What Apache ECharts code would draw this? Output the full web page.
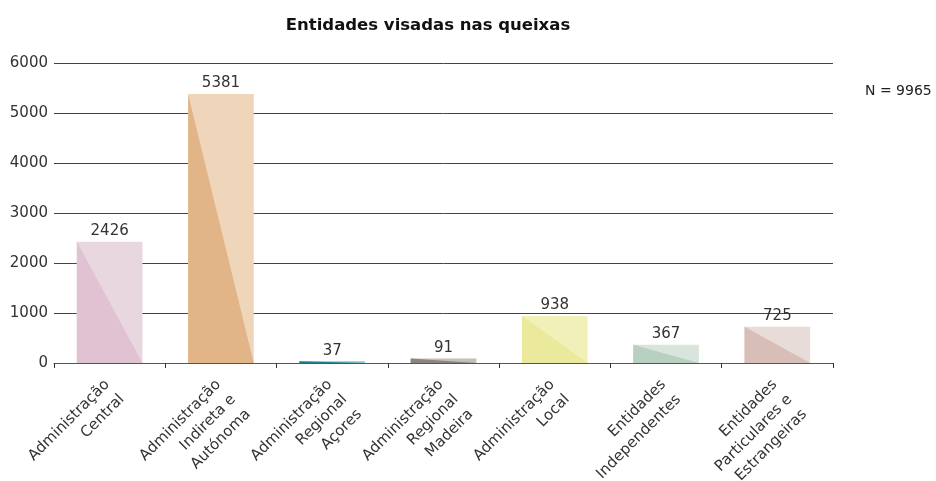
<!DOCTYPE html>
<html>
<head>
<meta charset="utf-8">
<script src="https://cdn.jsdelivr.net/npm/echarts@6/dist/echarts.min.js"></script>
<style>html,body{margin:0;padding:0;background:#fff}#c{width:936px;height:481px}</style>
</head>
<body>
<div id="c"></div>
<script>
var categories = [
  "Administração\nCentral",
  "Administração\nIndireta e\nAutónoma",
  "Administração\nRegional\nAçores",
  "Administração\nRegional\nMadeira",
  "Administração\nLocal",
  "Entidades\nIndependentes",
  "Entidades\nParticulares e\nEstrangeiras"
];
var values = [2426, 5381, 37, 91, 938, 367, 725];
var yTicks = [0, 1000, 2000, 3000, 4000, 5000, 6000];
var totalLabel = "N = 9965";
var titleText = "Entidades visadas nas queixas";

var lightColors = ["#e9d7e0", "#efd6ba", "#96c6cd", "#c4c0b9", "#f2f0b9", "#d9e4dc", "#e8dcd8"];
var darkColors  = ["#e0c2d3", "#e2b588", "#1f818d", "#8b867d", "#ebe99b", "#b7d0c0", "#d7beb7"];

var FONT = "DejaVu Sans";
var BAR_RATIO = 0.59;

var chart = echarts.init(document.getElementById('c'), null, {renderer: 'canvas'});
var option = {
  animation: false,
  graphic: [
    {
      type: 'text', x: 428, y: 26,
      style: {text: titleText, font: 'bold 16.5px "' + FONT + '"', fill: '#111', align: 'center', verticalAlign: 'middle'}
    },
    {
      type: 'text', x: 865, y: 91,
      style: {text: totalLabel, font: '14px "' + FONT + '"', fill: '#222', align: 'left', verticalAlign: 'middle'}
    }
  ],
  grid: {left: 54, right: 103, top: 63, bottom: 118, containLabel: false, outerBoundsMode: 'none'},
  xAxis: {
    type: 'category',
    data: categories,
    boundaryGap: true,
    axisLine: {lineStyle: {color: '#555', width: 1}},
    axisTick: {show: true, interval: 0, length: 5, lineStyle: {color: '#333'}},
    axisLabel: {
      interval: 0, rotate: 45, margin: 2,
      fontFamily: FONT, fontSize: 15, color: '#333', lineHeight: 21,
      verticalAlign: 'top', padding: [0, 14, 0, 0]
    }
  },
  yAxis: {
    type: 'value', min: yTicks[0], max: yTicks[yTicks.length - 1], interval: yTicks[1] - yTicks[0],
    axisLine: {show: false}, axisTick: {show: false},
    axisLabel: {fontFamily: FONT, fontSize: 15, color: '#333', margin: 6, formatter: function (v) { return String(v); }},
    splitLine: {lineStyle: {color: '#444', width: 1}}
  },
  series: [
    {
      type: 'bar',
      barWidth: (BAR_RATIO * 100) + '%',
      data: values.map(function (v, i) { return {value: v, itemStyle: {color: lightColors[i]}}; }),
      label: {show: true, position: 'top', distance: 3, fontFamily: FONT, fontSize: 15, color: '#333'},
      z: 2
    },
    {
      type: 'custom',
      data: values.map(function (v, i) { return [i, v]; }),
      z: 3,
      silent: true,
      renderItem: function (params, api) {
        var idx = api.value(0);
        var top = api.coord([idx, api.value(1)]);
        var base = api.coord([idx, 0]);
        var w = api.size([1, 0])[0] * BAR_RATIO;
        var x0 = top[0] - w / 2, x1 = top[0] + w / 2;
        return {
          type: 'polygon',
          shape: {points: [[x0, top[1]], [x0, base[1]], [x1, base[1]]]},
          style: {fill: darkColors[idx]}
        };
      }
    }
  ]
};
chart.setOption(option);
</script>
</body>
</html>
